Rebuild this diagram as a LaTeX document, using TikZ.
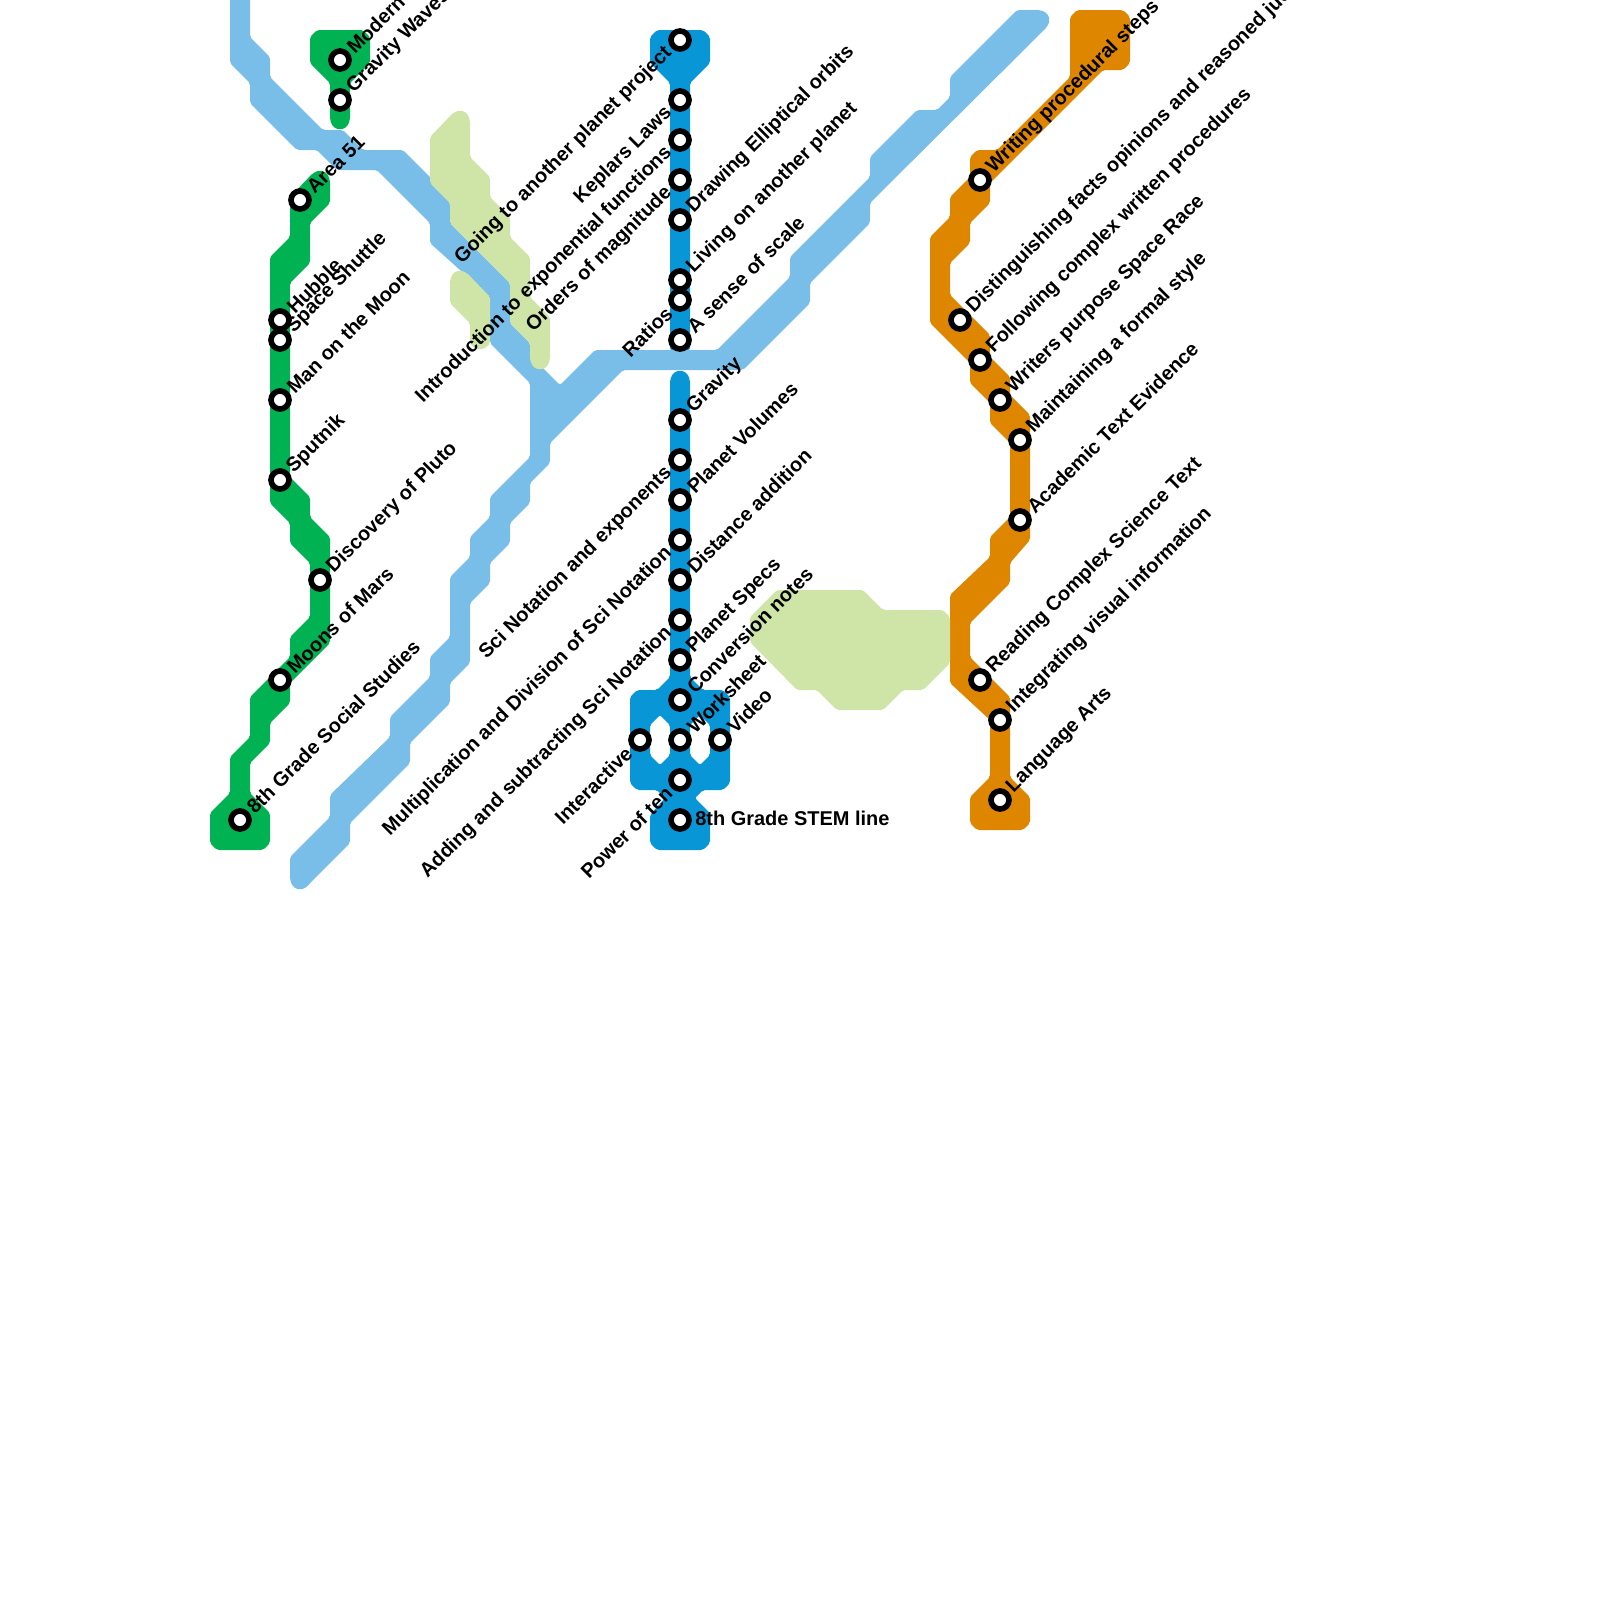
\documentclass[tikz,border=0pt]{standalone}
\usepackage{fontspec}
\setmainfont{Liberation Sans}
\tikzset{
  stn/.style={circle, draw=black, fill=white, line width=4pt, minimum size=12.8pt, inner sep=0pt},
  lbl/.style={font=\bfseries\fontsize{14.2}{16}\selectfont, inner sep=0pt, text=black},
  lblr/.style={lbl, rotate=45, anchor=west},
  lbll/.style={lbl, rotate=45, anchor=east},
  route/.style={rounded corners=1.5pt},
}
\begin{document}
\begin{tikzpicture}[x=0.025cm, y=-0.025cm]
	\definecolor{stemblue}{HTML}{0896D7}
	\definecolor{socialgreen}{HTML}{00B251}
	\definecolor{langorange}{HTML}{DF8600}
	\definecolor{paleblue}{HTML}{79BDE9}
	\definecolor{palelime}{HTML}{CFE4A7}
	\useasboundingbox (0,0) rectangle (1600,1600);

	% green line
	\fill[socialgreen, route] (310,37) -- (317,30) -- (363,30) -- (370,37) -- (370,63) -- (350,83) -- (350,120) -- (347,127) -- (340,130) -- (333,127) -- (330,120) -- (330,83) -- (310,63) -- cycle;
	\fill[socialgreen, route] (290,197) -- (313,173) -- (320,170) -- (327,173) -- (330,180) -- (330,203) -- (310,223) -- (310,263) -- (290,283) -- (290,477) -- (310,497) -- (310,517) -- (330,537) -- (330,643) -- (290,683) -- (290,703) -- (270,723) -- (270,743) -- (250,763) -- (250,793) -- (270,813) -- (270,843) -- (263,850) -- (217,850) -- (210,843) -- (210,813) -- (230,793) -- (230,757) -- (250,737) -- (250,697) -- (290,657) -- (290,637) -- (310,617) -- (310,563) -- (290,543) -- (290,523) -- (270,503) -- (270,257) -- (290,237) -- cycle;

	% STEM line
	\fill[stemblue, route] (650,37) -- (657,30) -- (703,30) -- (710,37) -- (710,63) -- (690,83) -- (690,350) -- (670,350) -- (670,83) -- (650,63) -- cycle;
	\fill[stemblue, route, even odd rule] (670,380) -- (673,373) -- (680,370) -- (687,373) -- (690,380) -- (690,677) -- (703,690) -- (723,690) -- (730,697) -- (730,783) -- (723,790) -- (703,790) -- (695,798) -- (710,813) -- (710,843) -- (703,850) -- (657,850) -- (650,843) -- (650,815) -- (665,798) -- (657,790) -- (637,790) -- (630,783) -- (630,697) -- (637,690) -- (657,690) -- (670,677) -- cycle
		(660,715) -- (670,725) -- (670,755) -- (660,765) -- (650,755) -- (650,725) -- cycle
		(700,715) -- (710,725) -- (710,755) -- (700,765) -- (690,755) -- (690,725) -- cycle;

	% orange line
	\fill[langorange, route] (1070,17) -- (1077,10) -- (1123,10) -- (1130,17) -- (1130,63) -- (1123,70) -- (1103,70) -- (990,183) -- (990,203) -- (970,223) -- (970,243) -- (950,263) -- (950,295) -- (990,335) -- (990,357) -- (1010,377) -- (1010,395) -- (1030,415) -- (1030,540) -- (1010,563) -- (1010,583) -- (970,623) -- (970,657) -- (1010,697) -- (1010,777) -- (1030,797) -- (1030,823) -- (1023,830) -- (977,830) -- (970,823) -- (970,797) -- (990,777) -- (990,720) -- (950,683) -- (950,595) -- (990,557) -- (990,537) -- (1010,517) -- (1010,443) -- (990,423) -- (990,403) -- (970,383) -- (970,363) -- (930,323) -- (930,237) -- (950,217) -- (950,197) -- (970,177) -- (970,157) -- (977,150) -- (997,150) -- (1070,77) -- cycle;

	% pale blue line
	\fill[paleblue, route] (230,-10) -- (250,-10) -- (250,37) -- (270,57) -- (270,77) -- (323,130) -- (343,130) -- (363,150) -- (403,150) -- (450,197) -- (450,223) -- (510,283) -- (510,323) -- (530,343) -- (530,355) -- (560,385) -- (595,350) -- (717,350) -- (790,277) -- (790,257) -- (870,177) -- (870,157) -- (917,110) -- (937,110) -- (950,97) -- (950,77) -- (1017,10) -- (1040,10) -- (1047,13) -- (1050,20) -- (1047,27) -- (870,203) -- (870,223) -- (810,283) -- (810,303) -- (743,370) -- (623,370) -- (550,443) -- (550,463) -- (530,483) -- (530,503) -- (510,523) -- (510,543) -- (490,563) -- (490,583) -- (470,603) -- (470,663) -- (450,683) -- (450,703) -- (410,743) -- (410,763) -- (350,823) -- (350,843) -- (310,883) -- (307,887) -- (300,890) -- (293,887) -- (290,880) -- (290,857) -- (330,817) -- (330,795) -- (390,737) -- (390,717) -- (430,677) -- (430,657) -- (450,637) -- (450,577) -- (470,557) -- (470,537) -- (490,517) -- (490,497) -- (530,457) -- (530,383) -- (490,343) -- (490,297) -- (430,243) -- (430,223) -- (377,170) -- (337,170) -- (317,150) -- (297,150) -- (250,103) -- (250,83) -- (230,63) -- cycle;

	% pale lime pieces
	\fill[palelime, route] (430,137) -- (453,113) -- (460,110) -- (467,113) -- (470,120) -- (470,157) -- (490,177) -- (490,197) -- (510,217) -- (510,237) -- (530,257) -- (530,297) -- (550,317) -- (550,360) -- (547,367) -- (540,370) -- (533,367) -- (530,360) -- (530,343) -- (510,323) -- (510,283) -- (450,223) -- (450,203) -- (430,183) -- cycle;
	\fill[palelime, route] (450,280) -- (453,273) -- (460,270) -- (467,273) -- (490,297) -- (490,343) -- (487,347) -- (480,350) -- (473,347) -- (470,343) -- (470,323) -- (450,303) -- cycle;
	\fill[palelime, route] (750,617) -- (777,590) -- (863,590) -- (883,610) -- (943,610) -- (950,617) -- (950,663) -- (923,690) -- (903,690) -- (883,710) -- (837,710) -- (817,690) -- (797,690) -- (750,642) -- cycle;

	% stations with the label on the right
	\foreach \px/\py/\nm/\txt in {
		340/60/modern/Modern, 340/100/waves/Gravity Waves, 300/200/area/Area 51,
		280/320/hubble/Hubble, 280/340/shuttle/Space Shuttle, 280/400/moon/Man on the Moon,
		280/480/sputnik/Sputnik, 320/580/pluto/Discovery of Pluto, 280/680/mars/Moons of Mars,
		240/820/social/8th Grade Social Studies,
		680/220/orbits/Drawing Elliptical orbits, 680/280/living/Living on another planet,
		680/340/scale/A sense of scale, 680/420/gravity/Gravity, 680/500/volumes/Planet Volumes,
		680/580/distance/Distance addition, 680/660/specs/Planet Specs, 680/700/conversion/Conversion notes,
		680/740/worksheet/Worksheet, 720/740/video/Video,
		980/180/writing/Writing procedural steps, 960/320/facts/Distinguishing facts opinions and reasoned judgment,
		980/360/following/Following complex written procedures, 1000/400/purpose/Writers purpose Space Race,
		1020/440/formal/Maintaining a formal style, 1020/520/evidence/Academic Text Evidence,
		980/680/reading/Reading Complex Science Text, 1000/720/visual/Integrating visual information,
		1000/800/language/Language Arts} {
		\node[stn] (\nm) at (\px,\py) {};
		\node[lblr] (\nm-t) at ([shift={(10,-10)}]\nm) {\txt};
	}

	% stations with the label on the left
	\foreach \px/\py/\nm/\txt in {
		680/40/project/Going to another planet project, 680/100/keplar/Keplars Laws,
		680/140/expo/Introduction to exponential functions, 680/180/orders/Orders of magnitude,
		680/300/ratios/Ratios, 680/460/sci/Sci Notation and exponents,
		680/540/muldiv/Multiplication and Division of Sci Notation,
		680/620/addsub/Adding and subtracting Sci Notation, 640/740/interactive/Interactive,
		680/780/power/Power of ten} {
		\node[stn] (\nm) at (\px,\py) {};
		\node[lbll] (\nm-t) at ([shift={(-11,10)}]\nm) {\txt};
	}

	\node[stn] (stem) at (680,820) {};
	\node[lbl, anchor=west] (stem-t) at ([shift={(15,-2)}]stem) {8th Grade STEM line};
\end{tikzpicture}
\end{document}
